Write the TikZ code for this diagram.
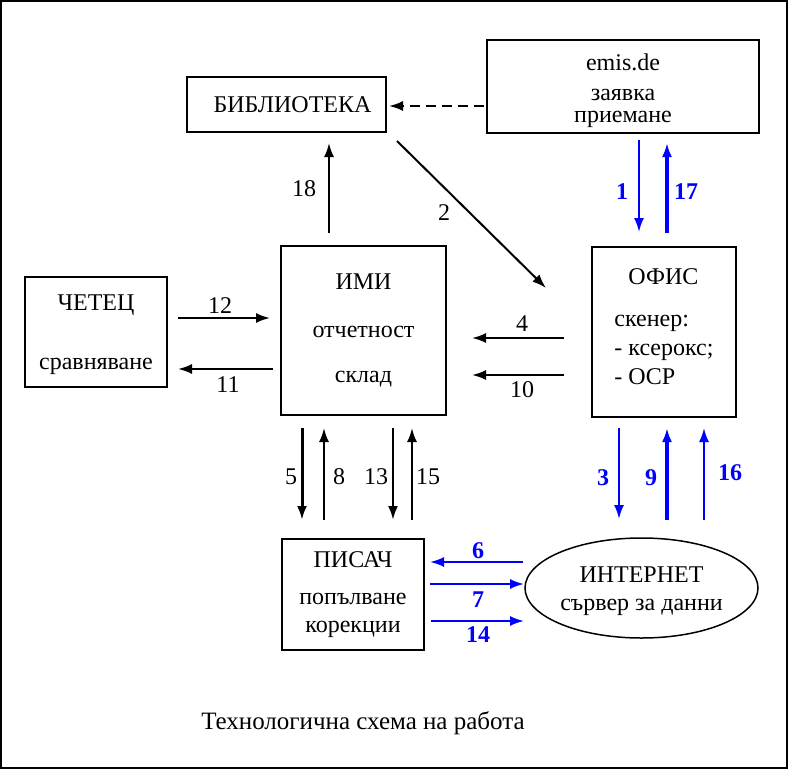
\documentclass[tikz,border=0pt]{standalone}
\usepackage{fontspec}
\setmainfont{Liberation Serif}
\usetikzlibrary{arrows.meta,shapes.geometric}
\colorlet{flow}{blue}
\tikzset{>={Latex[length=14pt,width=10pt]}}
\tikzset{
  box/.style = {draw, line width=2pt, inner sep=0pt, align=center},
  num/.style = {inner sep=0pt},
  bnum/.style = {inner sep=0pt, flow, font=\fontsize{24}{22}\selectfont\bfseries},
  link/.style = {->, line width=2pt},
  net/.style = {->, line width=2pt, flow}
}

\begin{document}
\begin{tikzpicture}[x=1pt,y=-1pt,font=\fontsize{24}{22}\selectfont]
  \useasboundingbox (0,0) rectangle (788,769);
  % frame
  \draw[line width=1.5pt] (1,1) rectangle (787,768);
  % blocks
  \node[box,minimum width=199pt,minimum height=55pt] (bib) at (286.5,104.5) {\hspace*{12pt}БИБЛИОТЕКА};
  \node[box,minimum width=272pt,minimum height=93pt] (emis) at (623,86.5) {\rule{0pt}{25pt}emis.de\\[8pt]заявка\\приемане};
  \node[box,minimum width=165pt,minimum height=169pt] (imi) at (363.5,330.5) {ИМИ\\[26pt]отчетност\\[23pt]склад};
  \node[box,minimum width=142pt,minimum height=110pt] (reader) at (96,332) {\rule{0pt}{21pt}ЧЕТЕЦ\\[37pt]сравняване};
  \node[box,minimum width=144pt,minimum height=170pt,align=left] (office) at (664,332) {\hspace*{14pt}ОФИС\\[20pt]скенер:\\[7pt]- ксерокс;\\[7pt]- OCP\rule[-10pt]{0pt}{10pt}};
  \node[box,minimum width=142pt,minimum height=111pt] (writer) at (353,594.5) {ПИСАЧ\\[15pt]попълване\\[6pt]корекции};
  \node[box,ellipse,line width=1.5pt,minimum width=233pt,minimum height=100pt] (web) at (641.5,588) {\rule{0pt}{22pt}ИНТЕРНЕТ\\[6pt]сървер за данни};
  \node[font=\fontsize{25}{22}\selectfont] (title) at (363,723) {Технологична схема на работа};
  % arrow ends
  \coordinate (a1) at (639,140);  \coordinate (b1) at (639,232);
  \coordinate (a17) at (667,233); \coordinate (b17) at (667,143);
  \coordinate (a0) at (484,106);  \coordinate (b0) at (389,106);
  \coordinate (a2) at (397,141);  \coordinate (b2) at (546,288);
  \coordinate (a18) at (329,233); \coordinate (b18) at (329,143);
  \coordinate (a12) at (178,318); \coordinate (b12) at (270,318);
  \coordinate (a11) at (273,369); \coordinate (b11) at (178,369);
  \coordinate (a4) at (564,338);  \coordinate (b4) at (472,338);
  \coordinate (a10) at (564,375); \coordinate (b10) at (472,375);
  \coordinate (a5) at (302,428);  \coordinate (b5) at (302,520);
  \coordinate (a8) at (324,520);  \coordinate (b8) at (324,428);
  \coordinate (a13) at (393,428); \coordinate (b13) at (393,520);
  \coordinate (a15) at (412,520); \coordinate (b15) at (412,428);
  \coordinate (a3) at (619,428);  \coordinate (b3) at (619,519);
  \coordinate (a9) at (667,520);  \coordinate (b9) at (667,428);
  \coordinate (a16) at (704,520); \coordinate (b16) at (704,428);
  \coordinate (a6) at (523,562);  \coordinate (b6) at (430,562);
  \coordinate (a7) at (430,584);  \coordinate (b7) at (524,584);
  \coordinate (a14) at (431,621); \coordinate (b14) at (524,621);
  % black flows
  \draw[->,line width=2pt,dashed,dash pattern=on 10pt off 6pt] (a0) -- (b0);
  \draw[link] (a2) -- (b2);
  \draw[link] (a18) -- (b18);
  \draw[link] (a12) -- (b12);
  \draw[link] (a11) -- (b11);
  \draw[link] (a4) -- (b4);
  \draw[link] (a10) -- (b10);
  \draw[link,line width=3pt] (a5) -- (b5);
  \draw[link] (a8) -- (b8);
  \draw[link,line width=2.5pt] (a13) -- (b13);
  \draw[link] (a15) -- (b15);
  % blue flows
  \draw[net] (a1) -- (b1);
  \draw[net,line width=3.5pt] (a17) -- (b17);
  \draw[net] (a3) -- (b3);
  \draw[net,line width=3.5pt] (a9) -- (b9);
  \draw[net] (a16) -- (b16);
  \draw[net] (a6) -- (b6);
  \draw[net] (a7) -- (b7);
  \draw[net] (a14) -- (b14);
  % numbers
  \node[num] (n2) at (444,213) {2};
  \node[num] (n18) at (304,189) {18};
  \node[num] (n12) at (220,306) {12};
  \node[num] (n11) at (228,385) {11};
  \node[num] (n4) at (522,324) {4};
  \node[num] (n10) at (522,390) {10};
  \node[num] (n5) at (291,477) {5};
  \node[num] (n8) at (339,477) {8};
  \node[num] (n13) at (376,477) {13};
  \node[num] (n15) at (428,477) {15};
  \node[bnum] (n1) at (622,192) {1};
  \node[bnum] (n17) at (686,192) {17};
  \node[bnum] (n3) at (603,478) {3};
  \node[bnum] (n9) at (651,478) {9};
  \node[bnum] (n16) at (730,473) {16};
  \node[bnum] (n6) at (478,551) {6};
  \node[bnum] (n7) at (478,600) {7};
  \node[bnum] (n14) at (478,635) {14};
\end{tikzpicture}
\end{document}
